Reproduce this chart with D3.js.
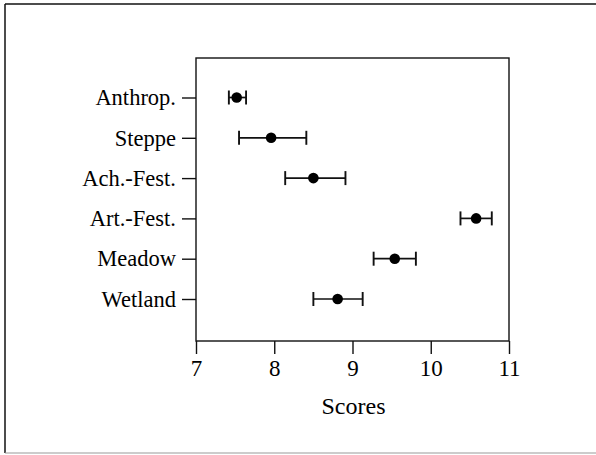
<!DOCTYPE html>
<html>
<head>
<meta charset="utf-8">
<script src="https://cdn.jsdelivr.net/npm/d3@7"></script>
<style>
body{margin:0;background:#fff;}
svg{display:block;}
</style>
</head>
<body>
<svg id="display" width="596" height="455"></svg>
<script>
// data
const categories=["Anthrop.","Steppe","Ach.-Fest.","Art.-Fest.","Meadow","Wetland"];
const means=[7.52,7.96,8.50,10.58,9.54,8.81];
const lower=[7.42,7.55,8.14,10.38,9.27,8.50];
const upper=[7.64,8.41,8.91,10.78,9.81,9.13];
const x_ticks=[7,8,9,10,11];

const display=d3.select("#display");
const font="'Liberation Serif','Times New Roman',serif";

// outer frame
display.append("line").attr("x1",5).attr("y1",4).attr("x2",596).attr("y2",4)
    .attr("stroke","#111").attr("stroke-width",1.5);
display.append("line").attr("x1",5).attr("y1",4).attr("x2",5).attr("y2",453)
    .attr("stroke","#111").attr("stroke-width",1.5);
display.append("line").attr("x1",5).attr("y1",453).attr("x2",596).attr("y2",453)
    .attr("stroke","#999").attr("stroke-width",1);

// plot box
const plot_left=196, plot_right=509, plot_top=58, plot_bottom=341;
const x=d3.scaleLinear().domain([7,11]).range([plot_left,plot_right]);
const y=d3.scalePoint().domain(categories).range([97.5,299]);

display.append("rect")
    .attr("x",plot_left).attr("y",plot_top)
    .attr("width",plot_right-plot_left).attr("height",plot_bottom-plot_top)
    .attr("fill","none").attr("stroke","#111").attr("stroke-width",1.4);

// x axis
const x_axis=display.append("g")
    .attr("transform","translate(0,"+plot_bottom+")")
    .call(d3.axisBottom(x).tickValues(x_ticks).tickFormat(d3.format("d")).tickSize(13).tickPadding(6));
x_axis.select(".domain").remove();
x_axis.selectAll("line").attr("stroke","#111").attr("stroke-width",1.4);
x_axis.selectAll("text").style("font-family",font).style("font-size","23px").style("fill","#000");

// y axis
const y_axis=display.append("g")
    .attr("transform","translate("+plot_left+",0)")
    .call(d3.axisLeft(y).tickSize(14).tickPadding(6));
y_axis.select(".domain").remove();
y_axis.selectAll("line").attr("stroke","#111").attr("stroke-width",1.4);
y_axis.selectAll("text").style("font-family",font).style("font-size","22.5px").style("fill","#000");

// axis title
display.append("text")
    .attr("x",(plot_left+plot_right)/2+1)
    .attr("y",414)
    .style("font-family",font)
    .style("font-size","24px")
    .style("text-anchor","middle")
    .text("Scores");

// error bars
const cap=7;
categories.forEach(function(cat,i){
    const cy=y(cat);
    display.append("line")
        .attr("x1",x(lower[i])).attr("x2",x(upper[i]))
        .attr("y1",cy).attr("y2",cy)
        .attr("stroke","#111").attr("stroke-width",1.7);
    for (const v of [lower[i],upper[i]]){
        display.append("line")
            .attr("x1",x(v)).attr("x2",x(v))
            .attr("y1",cy-cap).attr("y2",cy+cap)
            .attr("stroke","#111").attr("stroke-width",1.9);
    }
    display.append("circle")
        .attr("cx",x(means[i])).attr("cy",cy)
        .attr("r",5.3)
        .attr("fill","#000");
});
</script>
</body>
</html>
